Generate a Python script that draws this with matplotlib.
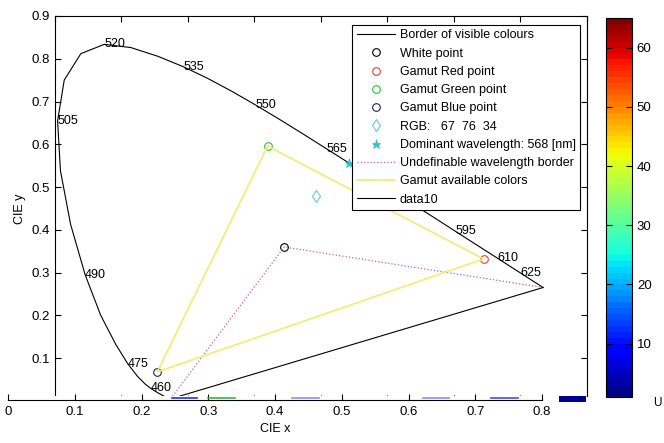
import numpy as np
import matplotlib.pyplot as plt
from matplotlib.patches import Rectangle
from matplotlib.colors import ListedColormap, Normalize
from matplotlib.cm import ScalarMappable

plt.rcParams['font.family'] = ['Liberation Sans', 'DejaVu Sans']

# =========================
# DATA
# =========================
# CIE 1931 spectral locus, 5 nm steps (380..700 nm)
wl = np.arange(380, 705, 5)
locus_x = [0.1741, 0.1740, 0.1738, 0.1736, 0.1733, 0.1730, 0.1726, 0.1721, 0.1714, 0.1703,
           0.1689, 0.1669, 0.1644, 0.1611, 0.1566, 0.1510, 0.1440, 0.1355, 0.1241, 0.1096,
           0.0913, 0.0687, 0.0454, 0.0235, 0.0082, 0.0039, 0.0139, 0.0389, 0.0743, 0.1142,
           0.1547, 0.1929, 0.2296, 0.2658, 0.3016, 0.3373, 0.3731, 0.4087, 0.4441, 0.4788,
           0.5125, 0.5448, 0.5752, 0.6029, 0.6270, 0.6482, 0.6658, 0.6801, 0.6915, 0.7006,
           0.7079, 0.7140, 0.7190, 0.7230, 0.7260, 0.7283, 0.7300, 0.7311, 0.7320, 0.7327,
           0.7334, 0.7340, 0.7344, 0.7346, 0.7347]
locus_y = [0.0050, 0.0050, 0.0049, 0.0049, 0.0048, 0.0048, 0.0048, 0.0048, 0.0051, 0.0058,
           0.0069, 0.0086, 0.0109, 0.0138, 0.0177, 0.0227, 0.0297, 0.0399, 0.0578, 0.0868,
           0.1327, 0.2007, 0.2950, 0.4127, 0.5384, 0.6548, 0.7502, 0.8120, 0.8338, 0.8262,
           0.8059, 0.7816, 0.7543, 0.7243, 0.6923, 0.6589, 0.6245, 0.5896, 0.5547, 0.5202,
           0.4866, 0.4544, 0.4242, 0.3965, 0.3725, 0.3514, 0.3340, 0.3197, 0.3083, 0.2993,
           0.2920, 0.2859, 0.2809, 0.2770, 0.2740, 0.2717, 0.2700, 0.2689, 0.2680, 0.2673,
           0.2666, 0.2660, 0.2656, 0.2654, 0.2653]
# 580 sits under the legend in the original, so it is left out
label_wl = [460, 475, 490, 505, 520, 535, 550, 565, 595, 610, 625]

white_pt = (0.345, 0.360)
red_pt = (0.645, 0.332)
green_pt = (0.320, 0.596)
blue_pt = (0.154, 0.068)
rgb_pt = (0.393, 0.479)
rgb_value = [67, 76, 34]
dom_pt = (0.442, 0.556)
dom_wl = 568

cbar_ticks = [10, 20, 30, 40, 50, 60]

# stray segments on the lower axis
seg_start = [0.246, 0.300, 0.425, 0.622, 0.724]
seg_end = [0.283, 0.340, 0.466, 0.661, 0.764]
seg_color = ['#3030c0', '#40b040', '#9090d8', '#9090d8', '#5050c8']

# =========================
# FIGURE
# =========================
W, H = 664, 443
fig = plt.figure(figsize=(W / 100, H / 100), dpi=100)


def box(l, t, r, b):
    return [l / W, 1 - b / H, (r - l) / W, (b - t) / H]


ax = fig.add_axes(box(55, 16, 586.5, 401))
ax.set_zorder(0)

lx, ly = np.array(locus_x), np.array(locus_y)
ax.plot(lx, ly, color='k', lw=0.8, label='Border of visible colours')
ax.plot(*white_pt, 'o', mfc='none', mec='k', ms=5.5, mew=0.8, label='White point')
ax.plot(*red_pt, 'o', mfc='none', mec='#e04040', ms=5.5, mew=0.8, label='Gamut Red point')
ax.plot(*green_pt, 'o', mfc='none', mec='#30c030', ms=5.5, mew=0.8, label='Gamut Green point')
ax.plot(*blue_pt, 'o', mfc='none', mec='#202070', ms=5.5, mew=0.8, label='Gamut Blue point')
ax.plot(*rgb_pt, 'd', mfc='none', mec='#60c8e0', ms=6, mew=0.8,
        label='RGB:   %d  %d  %d' % tuple(rgb_value))
ax.plot(*dom_pt, '*', color='#30c0d0', ms=6.5, mew=0.5,
        label='Dominant wavelength: %d [nm]' % dom_wl)
ax.plot([lx[-1], white_pt[0], lx[0]], [ly[-1], white_pt[1], ly[0]],
        ls=':', color='#c060a0', lw=0.9, label='Undefinable wavelength border')
ax.plot([green_pt[0], red_pt[0], blue_pt[0], green_pt[0]],
        [green_pt[1], red_pt[1], blue_pt[1], green_pt[1]],
        color='#eeee70', lw=1.2, label='Gamut available colors')
ax.plot([lx[0], lx[-1]], [ly[0], ly[-1]], color='k', lw=0.8, label='data10')

for w in label_wl:
    i = list(wl).index(w)
    ax.text(lx[i], ly[i], str(w), fontsize=9, ha='left', va='center')

ax.set_xlim(0, 0.8)
ax.set_ylim(0, 0.9)
ax.set_xticks(np.arange(0, 0.81, 0.1))
ax.set_yticks(np.arange(0, 0.91, 0.1))
ax.set_yticklabels(['0', '0.1', '0.2', '0.3', '0.4', '0.5', '0.6', '0.7', '0.8', '0.9'])
ax.tick_params(direction='in', length=4, width=0.8, top=True, right=True,
               labelbottom=False, labelsize=9.5)
ax.set_ylabel('CIE y', fontsize=9, labelpad=4)
for s in ax.spines.values():
    s.set_linewidth(0.8)

leg = ax.legend(loc='upper right', bbox_to_anchor=((580 - 55) / 531.5, (401 - 25) / 385),
                fontsize=9, fancybox=False, framealpha=1, edgecolor='k',
                handlelength=3.1, handletextpad=0.35, labelspacing=0.5,
                borderpad=0.35, numpoints=1, borderaxespad=0)
leg.get_frame().set_linewidth(0.8)

# white strip hiding bottom of main axes
fig.add_artist(Rectangle((0, 0), 600 / W, 1 - 396.5 / H, transform=fig.transFigure,
                         facecolor='white', edgecolor='none', zorder=1))

# lower axis
ax2 = fig.add_axes(box(8, 396, 542, 400))
ax2.set_zorder(2)
ax2.set_xlim(0, 0.8)
ax2.set_ylim(0, 1)
for k in ['top', 'left', 'right']:
    ax2.spines[k].set_visible(False)
ax2.spines['bottom'].set_linewidth(0.8)
ax2.set_yticks([])
ax2.set_xticks(np.arange(0, 0.81, 0.1))
ax2.set_xticklabels(['0', '0.1', '0.2', '0.3', '0.4', '0.5', '0.6', '0.7', '0.8'])
ax2.tick_params(direction='in', length=4, width=0.8, labelsize=9.5, pad=4)
ax2.set_xlabel('CIE x', fontsize=9, labelpad=4)
for a, b, c in zip(seg_start, seg_end, seg_color):
    ax2.plot([a, b], [0.6, 0.6], color=c, lw=1.2, clip_on=False)

# colorbar
cax = fig.add_axes(box(606, 18, 632, 397))
cax.set_zorder(2)
jet64 = ListedColormap(plt.get_cmap('jet')(np.linspace(0, 1, 64)))
cb = fig.colorbar(ScalarMappable(norm=Normalize(1, 65), cmap=jet64), cax=cax)
cb.set_ticks(cbar_ticks)
cb.outline.set_linewidth(0.8)
cax.tick_params(direction='in', length=4, width=0.8, left=True, right=True, labelsize=9.5)

fig.add_artist(Rectangle((559 / W, 1 - 402 / H), 27 / W, 6 / H, transform=fig.transFigure,
                         facecolor='#00008c', edgecolor='none', zorder=3))
fig.text(657 / W, 1 - 403 / H, 'U', fontsize=8.5, ha='center', va='center')

plt.savefig('out.png', dpi=100)
